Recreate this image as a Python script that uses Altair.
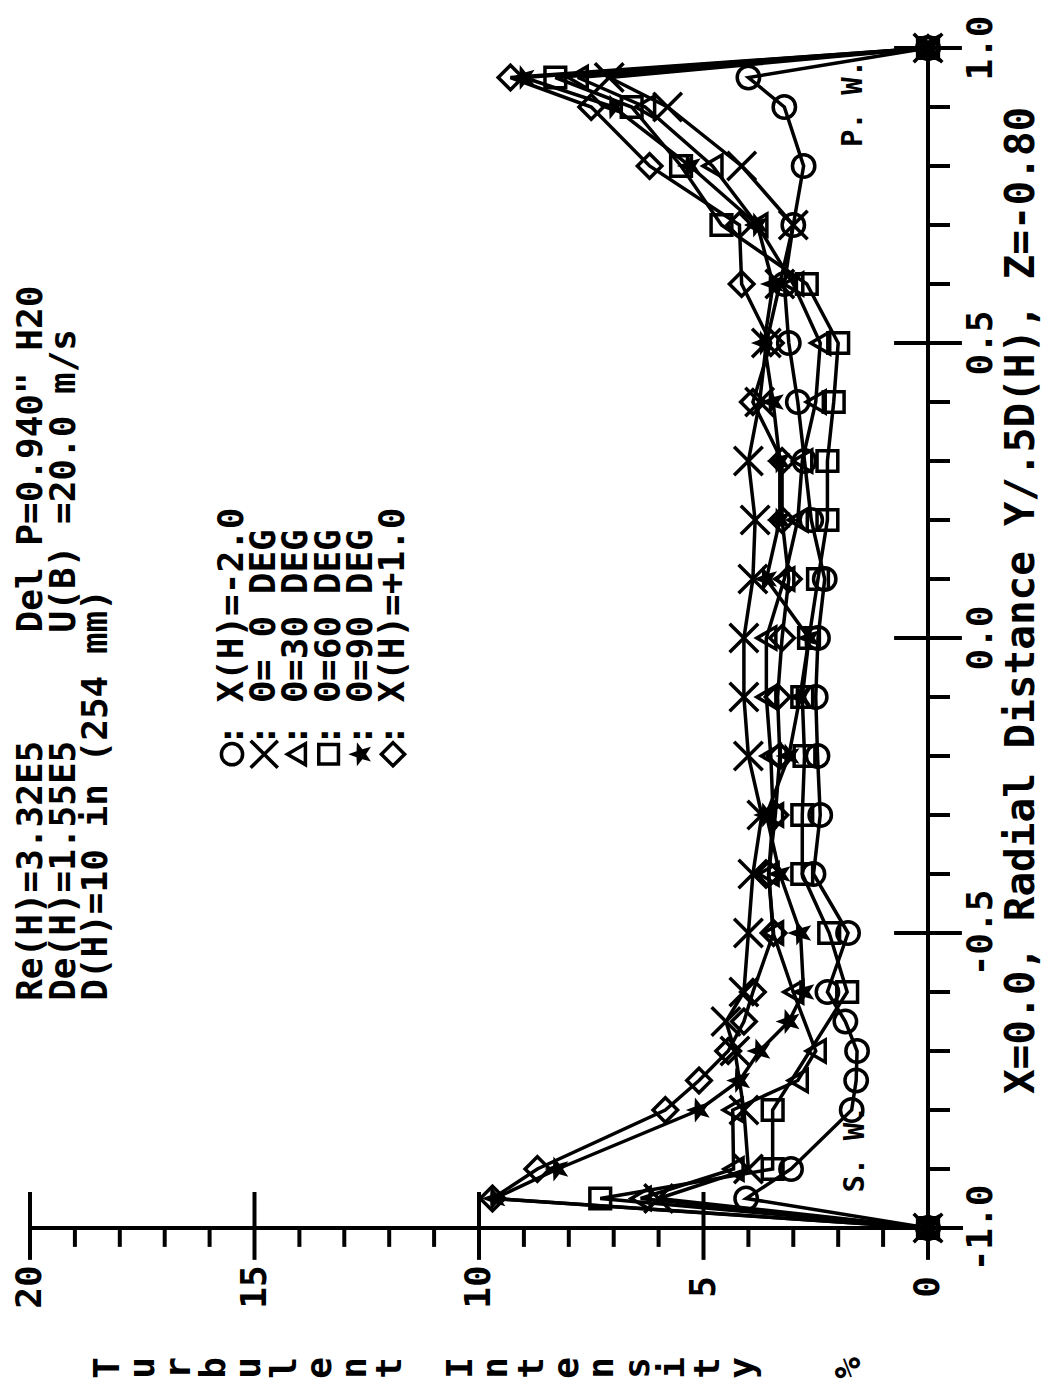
import math
import altair as alt
import pandas as pd

# ---------------- data ----------------
R = [-1.0, -0.95, -0.9, -0.8, -0.75, -0.7, -0.65, -0.6, -0.5, -0.4, -0.3, -0.2,
     -0.1, 0.0, 0.1, 0.2, 0.3, 0.4, 0.5, 0.6, 0.7, 0.8, 0.9, 0.95, 1.0]

circ = [0, 4.05, 3.05, 1.70, 1.60, 1.58, 1.84, 2.24, 1.78, 2.55, 2.40, 2.46,
        2.50, 2.45, 2.30, 2.60, 2.75, 2.90, 3.10, 3.20, 3.00, 2.77, 3.20, 4.00, 0]
xth0 = [0, 6.00, 4.00, 4.10, None, 4.30, 4.50, 4.10, 4.00, 3.90, 3.70, 4.00,
        4.10, 4.10, 3.90, 3.85, 4.00, 3.75, 3.60, 3.30, 3.00, 4.15, 5.80, 7.10, 0]
tri30 = [0, 6.40, 4.33, 4.35, 2.90, 2.50, None, 3.00, 3.45, 3.55, 3.45, 3.50,
         3.60, 3.60, 3.20, 2.90, 2.80, 2.50, 2.40, 3.00, 3.80, 4.80, 6.30, 7.80, 0]
sq60 = [0, 7.30, 3.46, 3.46, None, None, None, 1.80, 2.20, 2.80, 2.80, 2.75,
        2.80, 2.65, 2.45, 2.24, 2.24, 2.10, 2.00, 2.70, 4.60, 5.50, 6.60, 8.30, 0]
star90 = [0, 9.65, 8.25, 5.10, 4.20, 3.75, 3.10, 2.77, 2.84, 3.30, 3.60, 3.10,
          2.85, 2.65, 3.60, 3.30, 3.30, 3.45, 3.65, 3.45, 3.80, 5.30, 7.00, 9.00, 0]
diam = [0, 9.70, 8.70, 5.85, 5.10, 4.45, 4.10, 3.90, 3.44, 3.55, 3.40, 3.30,
        3.35, 3.25, 3.10, 3.25, 3.25, 3.90, 3.50, 4.15, 4.20, 6.20, 7.50, 9.30, 0]

series_names = ["circ", "x0", "tri30", "sq60", "star90", "diam"]
series_values = [circ, xth0, tri30, sq60, star90, diam]
legend_texts = [": X(H)=-2.0", ": Θ=\u00a00 DEG", ": Θ=30 DEG", ": Θ=60 DEG",
                ": Θ=90 DEG", ": X(H)=+1.0"]

GAP = "\u00a0" * 5
header_lines = ["Re(H)=3.32E5" + GAP + "Del P=0.940\" H20",
                "De(H)=1.55E5" + GAP + "U(B) =20.0 m/s",
                "D(H)=10 in (254 mm)"]
x_title = "X=0.0, Radial Distance Y/.5D(H), Z=-0.80"
y_title = "Turbulent Intensity  %"
int_ticks = list(range(0, 21))
int_labels = [0, 5, 10, 15, 20]
rad_labels = [-1.0, -0.5, 0.0, 0.5, 1.0]

# ---------------- shapes ----------------
star_pts = []
for k in range(10):
    ang = math.pi + k * math.pi / 5
    rad = 1.0 if k % 2 == 0 else 0.42
    star_pts.append(f"{rad*math.cos(ang):.3f},{rad*math.sin(ang):.3f}")
STAR = "M" + "L".join(star_pts) + "Z"
XSHAPE = "M-1,-1L1,1M-1,1L1,-1"

shape_spec = {
    "circ": dict(shape="circle", size=500, filled=False),
    "x0": dict(shape=XSHAPE, size=820, filled=False),
    "tri30": dict(shape="triangle-left", size=480, filled=False),
    "sq60": dict(shape="square", size=430, filled=False),
    "star90": dict(shape=STAR, size=700, filled=True),
    "diam": dict(shape="diamond", size=600, filled=False),
}

# ---------------- frames ----------------
rows = []
for name, vals in zip(series_names, series_values):
    for r, v in zip(R, vals):
        if v is not None:
            rows.append({"series": name, "r": r, "I": v})
df = pd.DataFrame(rows)

W, H = 898, 1180
PX0 = 928            # page x of intensity 0
PXU = W / 20.0       # px per intensity unit

def I_at(px):
    return (PX0 - px) / PXU

xs = alt.Scale(domain=[0, 20], reverse=True, nice=False, zero=False)
ys = alt.Scale(domain=[-1, 1], nice=False, zero=False)

FONT = "DejaVu Sans Mono"

def X(f="I"):
    return alt.X(f"{f}:Q", scale=xs, axis=None)

def Y(f="r"):
    return alt.Y(f"{f}:Q", scale=ys, axis=None)

# axis segments
seg = [{"x1": 20, "x2": -0.78, "y1": -1, "y2": -1},
       {"x1": 0, "x2": 0, "y1": -1, "y2": 1}]
for v in int_ticks:
    if v % 5 == 0:
        seg.append({"x1": v, "x2": v, "y1": -0.939, "y2": -1.054})
    else:
        seg.append({"x1": v, "x2": v, "y1": -1.0, "y2": -1.032})
for k in range(-10, 11):
    v = k / 10
    if k % 5 == 0:
        seg.append({"x1": 0.755, "x2": -0.755, "y1": v, "y2": v})
    else:
        seg.append({"x1": 0, "x2": -0.49, "y1": v, "y2": v})
seg_df = pd.DataFrame(seg)

axes = alt.Chart(seg_df).mark_rule(color="black", strokeWidth=4).encode(
    x=X("x1"), x2="x2:Q", y=Y("y1"), y2="y2:Q")

lines = alt.Chart(df).mark_line(color="black", strokeWidth=3.5).encode(
    x=X(), y=Y(), detail="series:N", order="r:Q")

layers = [axes, lines]
for name in series_names:
    sp = shape_spec[name]
    layers.append(
        alt.Chart(df).transform_filter(alt.datum.series == name).mark_point(
            shape=sp["shape"], size=sp["size"], filled=sp["filled"],
            color="black", strokeWidth=3.5, opacity=1).encode(x=X(), y=Y()))

# legend
leg_rows = []
for i, (name, t) in enumerate(zip(series_names, legend_texts)):
    leg_rows.append({"series": name, "I": I_at(232 + 32.2 * i), "r": -0.197,
                     "rt": -0.183, "t": t})
leg_df = pd.DataFrame(leg_rows)
for name in series_names:
    sp = shape_spec[name]
    layers.append(
        alt.Chart(leg_df).transform_filter(alt.datum.series == name).mark_point(
            shape=sp["shape"], size=sp["size"] * 0.9, filled=sp["filled"],
            color="black", strokeWidth=3.5, opacity=1).encode(x=X(), y=Y()))
layers.append(alt.Chart(leg_df).mark_text(
    angle=270, align="left", baseline="middle", font=FONT, fontWeight="bold",
    fontSize=36, color="black").encode(x=X(), y=Y("rt"), text="t:N"))

# header
hdr_df = pd.DataFrame({"t": header_lines,
                       "I": [I_at(31 + 32.5 * i) for i in range(len(header_lines))],
                       "r": [-0.615] * len(header_lines)})
layers.append(alt.Chart(hdr_df).mark_text(
    angle=270, align="left", baseline="middle", font=FONT, fontWeight="bold",
    fontSize=36, color="black").encode(x=X(), y=Y(), text="t:N"))

# wall labels
wall_df = pd.DataFrame({"t": ["S. W.", "P. W."], "I": [I_at(855), I_at(853)],
                        "r": [-0.94, 0.832]})
layers.append(alt.Chart(wall_df).mark_text(
    angle=270, align="left", baseline="middle", font=FONT, fontWeight="bold",
    fontSize=29, color="black").encode(x=X(), y=Y(), text="t:N"))

# tick labels
il_df = pd.DataFrame({"I": int_labels, "r": [-1.1] * len(int_labels),
                      "t": [str(v) for v in int_labels]})
layers.append(alt.Chart(il_df).mark_text(
    angle=270, align="center", baseline="middle", font=FONT, fontWeight="bold",
    fontSize=36, color="black").encode(x=X(), y=Y(), text="t:N"))
rl_df = pd.DataFrame({"r": rad_labels, "I": [I_at(981)] * len(rad_labels),
                      "t": [f"{v:.1f}" for v in rad_labels]})
layers.append(alt.Chart(rl_df).mark_text(
    angle=270, align="center", baseline="middle", font=FONT, fontWeight="bold",
    fontSize=36, color="black").encode(x=X(), y=Y(), text="t:N"))

# radial axis title
xt_df = pd.DataFrame({"t": [x_title], "I": [I_at(1022)], "r": [-0.773]})
layers.append(alt.Chart(xt_df).mark_text(
    angle=270, align="left", baseline="middle", font=FONT, fontWeight="bold",
    fontSize=41, color="black").encode(x=X(), y=Y(), text="t:N"))

# intensity axis title: stacked letters
step_px = 35.3
yt_rows = []
for i, ch in enumerate(y_title):
    if ch != " ":
        px = 108 + step_px * i
        yt_rows.append({"t": ch, "I": I_at(px), "r": -1.237})
yt_df = pd.DataFrame(yt_rows)
layers.append(alt.Chart(yt_df).mark_text(
    angle=270, align="center", baseline="middle", font=FONT, fontWeight="bold",
    fontSize=36, color="black").encode(x=X(), y=Y(), text="t:N"))

chart = alt.layer(*layers).properties(
    width=W, height=H,
    autosize=alt.AutoSizeParams(type="none"),
    padding={"left": 22, "top": 40, "right": 115, "bottom": 155},
    background="white",
).configure_view(stroke=None)

chart.save("out.html", embed_options={"renderer": "svg", "actions": False})
